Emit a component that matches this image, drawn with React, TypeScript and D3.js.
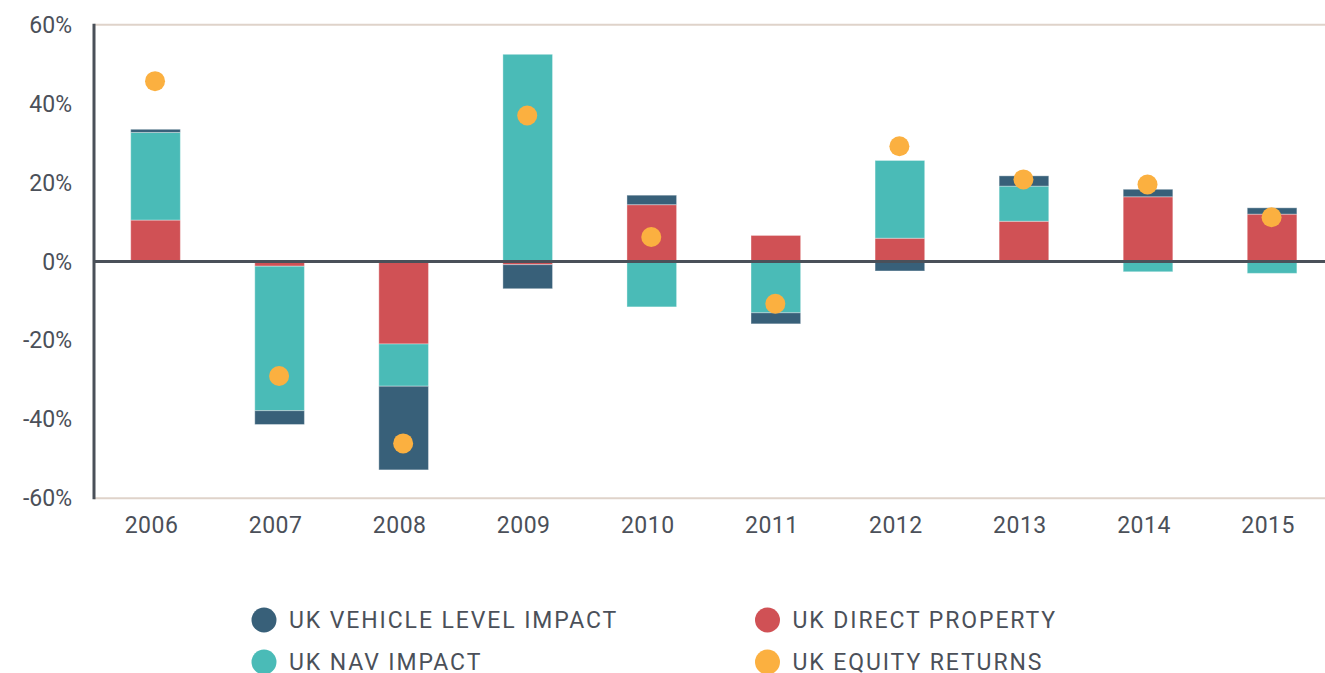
import * as d3 from "d3";

const years = ["2006", "2007", "2008", "2009", "2010", "2011", "2012", "2013", "2014", "2015"];
const directProperty = [10.5, -1.2, -20.9, -0.8, 14.4, 6.6, 5.9, 10.2, 16.4, 12.0];
const navImpact = [22.2, -36.6, -10.7, 52.5, -11.5, -13.0, 19.7, 8.9, -2.6, -3.0];
const vehicleImpact = [0.8, -3.5, -21.2, -6.1, 2.4, -2.8, -2.4, 2.6, 1.9, 1.6];
const equityReturns = [45.7, -29.0, -46.1, 37.0, 6.2, -10.7, 29.2, 20.8, 19.5, 11.2];
const yTicks = [-60, -40, -20, 0, 20, 40, 60];

const seriesKeys = ["direct", "nav", "vehicle"];
const colors: Record<string, string> = {
  vehicle: "#386079",
  direct: "#d05155",
  nav: "#4abbb7",
  equity: "#fbb040",
};
const legendItems = [
  { key: "vehicle", label: "UK VEHICLE LEVEL IMPACT" },
  { key: "direct", label: "UK DIRECT PROPERTY" },
  { key: "nav", label: "UK NAV IMPACT" },
  { key: "equity", label: "UK EQUITY RETURNS" },
];

const W = 1325;
const H = 673;
const axisX = 94;
const textColor = "#4b5059";
const font = "Roboto, 'Noto Sans', sans-serif";

export default function App() {
  const rows = years.map((year, i) => ({
    year,
    direct: directProperty[i],
    nav: navImpact[i],
    vehicle: vehicleImpact[i],
  }));

  const stacked = d3
    .stack<{ year: string; direct: number; nav: number; vehicle: number }>()
    .keys(seriesKeys)
    .offset(d3.stackOffsetDiverging)(rows as any);

  const x = d3
    .scaleBand()
    .domain(years)
    .range([axisX, 1333.6])
    .paddingInner(0.6)
    .paddingOuter(0.296);

  const y = d3.scaleLinear().domain([-60, 60]).range([498.3, 24.7]);
  const center = (yr: string) => (x(yr) ?? 0) + x.bandwidth() / 2;

  return (
    <svg
      width={W}
      height={H}
      style={{ position: "absolute", left: 0, top: 0, display: "block" }}
      fontFamily={font}
    >
      {/* top / bottom grid lines */}
      {[60, -60].map((v) => (
        <line key={v} x1={axisX} x2={W} y1={y(v)} y2={y(v)} stroke="#dfd3ca" strokeWidth={2} />
      ))}

      {stacked.map((layer) => (
        <g key={layer.key} fill={colors[layer.key]}>
          {layer.map((d, i) => {
            const y0 = Math.min(y(d[0]), y(d[1]));
            const h = Math.abs(y(d[0]) - y(d[1]));
            if (h < 0.01) return null;
            return (
              <rect
                key={years[i]}
                x={x(years[i])}
                y={y0}
                width={x.bandwidth()}
                height={h}
                stroke="#ffffff"
                strokeOpacity={0.35}
                strokeWidth={1}
              />
            );
          })}
        </g>
      ))}

      <line x1={axisX} x2={W} y1={y(0)} y2={y(0)} stroke="#4a5059" strokeWidth={3} />
      <line x1={axisX} x2={axisX} y1={y(60) - 1} y2={y(-60) + 1} stroke="#4a5059" strokeWidth={3} />

      {equityReturns.map((v, i) => (
        <circle key={years[i]} cx={center(years[i]) - 0.5} cy={y(v)} r={10} fill={colors.equity} />
      ))}

      {yTicks.map((t) => (
        <text
          key={t}
          x={72}
          y={y(t)}
          dy="0.35em"
          textAnchor="end"
          fontSize={23}
          fill={textColor}
        >
          {`${t}%`}
        </text>
      ))}

      {years.map((yr) => (
        <text
          key={yr}
          x={center(yr) - 4}
          y={525}
          dy="0.35em"
          textAnchor="middle"
          fontSize={23}
          fill={textColor}
          letterSpacing={0.5}
        >
          {yr}
        </text>
      ))}

      {legendItems.map((item, i) => {
        const col = i % 2;
        const row = Math.floor(i / 2);
        const cx = col === 0 ? 264 : 767.5;
        const cy = 620 + row * 42;
        return (
          <g key={item.key}>
            <circle cx={cx} cy={cy} r={12.5} fill={colors[item.key]} />
            <text
              x={cx + 25}
              y={cy}
              dy="0.36em"
              fontSize={23}
              fill={textColor}
              letterSpacing={1.9}
            >
              {item.label}
            </text>
          </g>
        );
      })}
    </svg>
  );
}
